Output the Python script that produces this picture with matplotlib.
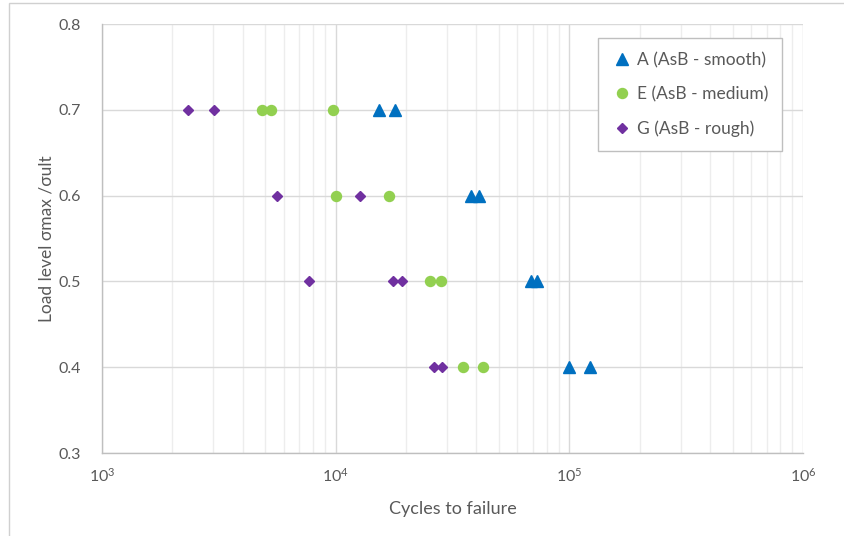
import matplotlib.pyplot as plt
import matplotlib.ticker as mticker
from matplotlib.patches import Rectangle
import numpy as np

plt.rcParams['font.family'] = ['Lato', 'DejaVu Sans']
plt.rcParams['mathtext.fontset'] = 'custom'
plt.rcParams['mathtext.rm'] = 'Lato'
plt.rcParams['mathtext.default'] = 'regular'

# cycles to failure per load level
a_cycles = [15300, 17900, 38100, 41000, 68500, 72600, 99600, 122500]
a_load = [0.7, 0.7, 0.6, 0.6, 0.5, 0.5, 0.4, 0.4]

e_cycles = [4840, 5290, 9730, 10060, 16900, 25450, 28100, 34950, 42800]
e_load = [0.7, 0.7, 0.7, 0.6, 0.6, 0.5, 0.5, 0.4, 0.4]

g_cycles = [2330, 3010, 5620, 12700, 7690, 17640, 19200, 26300, 28400]
g_load = [0.7, 0.7, 0.6, 0.6, 0.5, 0.5, 0.5, 0.4, 0.4]

txt = '#595959'
grid_major = '#D9D9D9'
grid_minor = '#EDEDED'

fig = plt.figure(figsize=(8.44, 5.36), dpi=100)
ax = fig.add_axes([102/844, 1 - 453/536, (803 - 102)/844, (453 - 24)/536])

ax.plot(a_cycles, a_load, '^', color='#0070C0', markersize=8.5, linestyle='none',
        label='A (AsB - smooth)', zorder=3)
ax.plot(e_cycles, e_load, 'o', color='#92D050', markersize=7.2, linestyle='none',
        label='E (AsB - medium)', zorder=3)
ax.plot(g_cycles, g_load, 'D', color='#7030A0', markersize=5.6, linestyle='none',
        label='G (AsB - rough)', zorder=3)

ax.set_xscale('log')
ax.set_xlim(1e3, 1e6)
ax.set_ylim(0.3, 0.8)
ax.set_yticks(np.arange(0.3, 0.81, 0.1))
ax.yaxis.set_major_formatter(mticker.FormatStrFormatter('%.1f'))
ax.xaxis.set_major_locator(mticker.LogLocator(base=10, numticks=10))
ax.xaxis.set_major_formatter(mticker.FuncFormatter(
    lambda v, p: '$10^{%d}$' % round(np.log10(v))))
ax.xaxis.set_minor_locator(mticker.LogLocator(base=10, subs=np.arange(2, 10), numticks=20))
ax.xaxis.set_minor_formatter(mticker.NullFormatter())

ax.grid(True, which='major', axis='both', color=grid_major, linewidth=1)
ax.grid(True, which='minor', axis='x', color=grid_minor, linewidth=1)
ax.set_axisbelow(True)

ax.tick_params(axis='both', which='both', length=0, colors=txt, labelsize=11.5)
ax.tick_params(axis='y', pad=15)
ax.tick_params(axis='x', pad=10)

for s in ['top', 'right']:
    ax.spines[s].set_visible(False)
for s in ['left', 'bottom']:
    ax.spines[s].set_color('#BFBFBF')
    ax.spines[s].set_linewidth(1)

ax.set_xlabel('Cycles to failure', color=txt, fontsize=13, labelpad=12)
ax.set_ylabel('Load level σmax /σult', color=txt, fontsize=12.5, labelpad=3)

leg = ax.legend(loc='upper left', bbox_to_anchor=(598/844, 1 - 38/536),
                bbox_transform=fig.transFigure, fontsize=12.5, labelspacing=1.05,
                handletextpad=0.25, handlelength=1.2, borderpad=0.8, fancybox=False,
                framealpha=1, edgecolor='#BFBFBF', borderaxespad=0)
for t in leg.get_texts():
    t.set_color(txt)
leg.get_frame().set_linewidth(1)

# outer chart border
fig.patches.append(Rectangle((9/844, -0.05), 1.1, 1 - 3/536 + 0.05,
                             transform=fig.transFigure, fill=False,
                             edgecolor='#D0D0D0', linewidth=1))

fig.savefig('out.png', dpi=100)
